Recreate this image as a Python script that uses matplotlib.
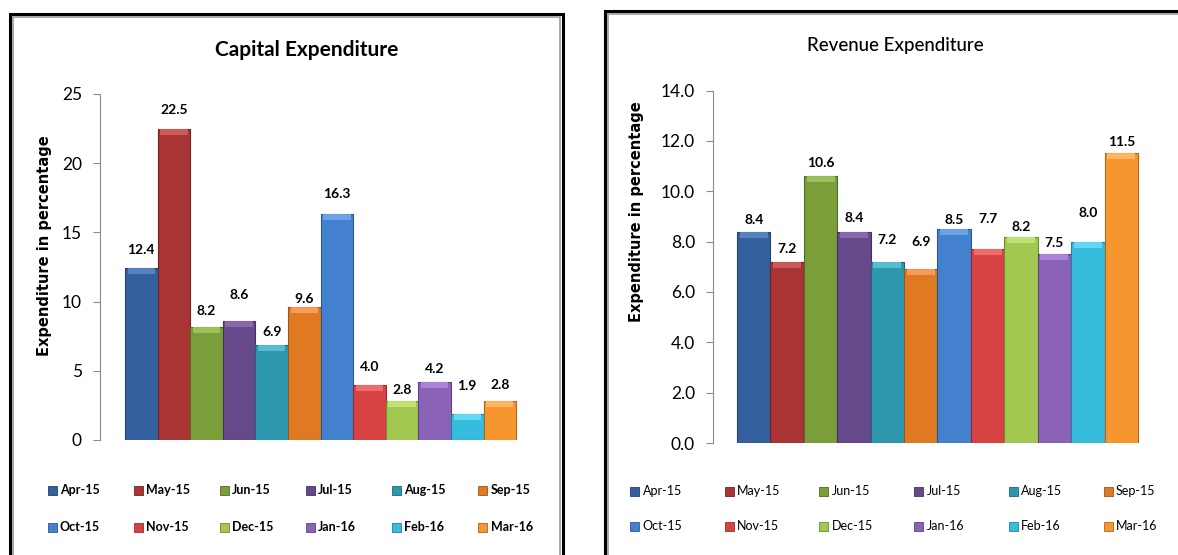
import matplotlib
matplotlib.use("Agg")
import matplotlib.pyplot as plt
from matplotlib.patches import Rectangle
from matplotlib import font_manager

months = ["Apr-15", "May-15", "Jun-15", "Jul-15", "Aug-15", "Sep-15",
          "Oct-15", "Nov-15", "Dec-15", "Jan-16", "Feb-16", "Mar-16"]
capital = [12.4, 22.5, 8.2, 8.6, 6.9, 9.6, 16.3, 4.0, 2.8, 4.2, 1.9, 2.8]
revenue = [8.4, 7.2, 10.6, 8.4, 7.2, 6.9, 8.5, 7.7, 8.2, 7.5, 8.0, 11.5]
capital_ticks = [0, 5, 10, 15, 20, 25]
revenue_ticks = [0, 2, 4, 6, 8, 10, 12, 14]

# label placement (pixels between bar top and label centre), as in the reference
capital_label_gap = [18, 19, 16, 26, 13, 8, 20, 18, 11, 13, 28, 16]
revenue_label_gap = [12, 13, 13, 13, 22, 27, 9, 30, 10, 11, 29, 11]

colors = ["#34609F", "#A83434", "#7C9E3A", "#66498A", "#2D97AE", "#E07A22",
          "#4381CF", "#D74343", "#A2C852", "#8A63B8", "#36BCDC", "#F7962F"]
edges = ["#23416C", "#742323", "#546B27", "#45315E", "#1E6677", "#9A5417",
         "#2D588E", "#932E2E", "#6E8937", "#5E437E", "#25809A", "#AA6720"]
caps = ["#5A86C4", "#D06060", "#A2C45E", "#8A6CB0", "#5CC0D6", "#F7A060",
        "#70A6EA", "#F07070", "#C4E678", "#AE88DA", "#6ADCF5", "#FFBA68"]

names = {f.name for f in font_manager.fontManager.ttflist}
narrow = "Liberation Sans Narrow" if "Liberation Sans Narrow" in names else "Lato"

W, H = 1178, 555
fig = plt.figure(figsize=(W / 100, H / 100), dpi=100)
plt.rcParams['font.family'] = ['Lato', 'DejaVu Sans']


def fx(px):
    return px / W


def fy(py):
    return 1 - py / H


# panel borders
for (x0, y0, x1, y1) in [(10, 14, 563, 560), (605, 11, 1185, 560)]:
    fig.add_artist(Rectangle((fx(x0), fy(y1)), fx(x1 - x0), (y1 - y0) / H,
                             fill=False, edgecolor="black", linewidth=2.2,
                             transform=fig.transFigure))
    fig.add_artist(Rectangle((fx(x0 + 3), fy(y1)), fx(x1 - x0 - 6), (y1 - y0 - 3) / H,
                             fill=False, edgecolor="#9a9a9a", linewidth=1.2,
                             transform=fig.transFigure))


def make_panel(axpx, values, gaps, xlim, ylim, yticks, tick_labels, title, title_xy,
               title_kw, ylabel_xy, leg_x0, leg_dx, leg_y, leg_kw, tick_kw):
    left, right, top, bottom = axpx
    ax = fig.add_axes([fx(left), fy(bottom), fx(right - left), (bottom - top) / H])
    x = list(range(len(values)))
    ax.bar(x, values, width=1.0, color=colors, edgecolor=edges, linewidth=0.8)
    # bevel cap
    unit = (ylim[1] - ylim[0]) / (bottom - top)
    capw = 6 * unit
    ax.bar(x, [capw] * len(values), bottom=[v - capw for v in values], width=0.84,
           color=caps, linewidth=0, alpha=0.9)
    for xi, v, g in zip(x, values, gaps):
        ax.annotate("{:.1f}".format(v), (xi, v), xytext=(0, g * 0.72),
                    textcoords="offset points", ha="center", va="center",
                    fontsize=10, fontweight="bold")
    ax.set_xlim(*xlim)
    ax.set_ylim(*ylim)
    ax.set_yticks(yticks)
    ax.set_yticklabels(tick_labels, **tick_kw)
    ax.set_xticks([])
    for s in ["top", "right", "bottom"]:
        ax.spines[s].set_visible(False)
    ax.spines["left"].set_color("#8c8c8c")
    ax.tick_params(axis="y", colors="#8c8c8c", labelcolor="black", length=5, pad=8)
    ax.set_facecolor("none")
    fig.text(fx(title_xy[0]), fy(title_xy[1]), title, ha="center", va="center",
             **title_kw)
    fig.text(fx(ylabel_xy[0]), fy(ylabel_xy[1]), "Expenditure in percentage",
             rotation=90, ha="center", va="center", fontsize=10.5, fontweight="bold",
             family=["DejaVu Sans"])
    for i, m in enumerate(months):
        col, row = i % 6, i // 6
        px = leg_x0 + col * leg_dx
        py = leg_y[row]
        fig.add_artist(Rectangle((fx(px - 4.5), fy(py + 4.5)), fx(9), 9 / H,
                                 facecolor=colors[i], edgecolor=edges[i], linewidth=0.6,
                                 transform=fig.transFigure))
        fig.text(fx(px + 8), fy(py), m, ha="left", va="center", **leg_kw)
    return ax


make_panel((100, 535, 94, 440), capital, capital_label_gap, (-1.267, 12.08), (0, 25),
           capital_ticks, [str(t) for t in capital_ticks],
           "Capital Expenditure", (307, 50),
           dict(fontsize=15, fontweight="bold", family=[narrow, "DejaVu Sans"]),
           (45, 246),
           52, 86.1, (490, 527),
           dict(fontsize=11 if narrow != "Lato" else 9, fontweight="bold",
                family=[narrow, "DejaVu Sans"]),
           dict(fontsize=14 if narrow != "Lato" else 12.5, family=[narrow, "DejaVu Sans"]))

make_panel((713, 1155, 90.5, 443), revenue, revenue_label_gap, (-1.219, 12.01), (0, 14),
           revenue_ticks, ["{:.1f}".format(t) for t in revenue_ticks],
           "Revenue Expenditure", (895, 45),
           dict(fontsize=13.5, fontweight="medium", family=["Lato", "DejaVu Sans"]),
           (636, 212),
           634.5, 94.7, (491, 526),
           dict(fontsize=9, family=["Lato", "DejaVu Sans"]),
           dict(fontsize=12.5, family=["Lato", "DejaVu Sans"]))

fig.savefig("out.png", dpi=100)
